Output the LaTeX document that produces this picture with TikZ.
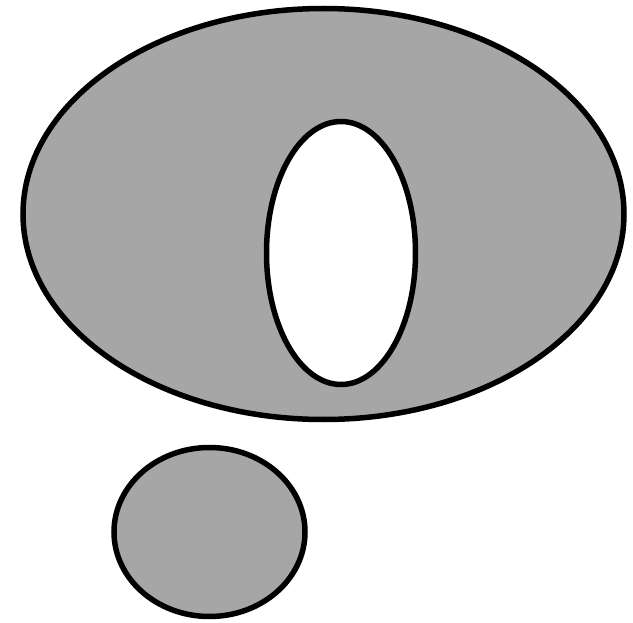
\documentclass[tikz,border=0pt]{standalone}
\begin{document}
\begin{tikzpicture}[x=1pt,y=-1pt,
  shapeline/.style={line width=5.5pt,draw=black},
  grayfill/.style={fill=gray!70}]
\useasboundingbox (0,0) rectangle (633,623);
\path[shapeline,grayfill,even odd rule] (323.5,214) ellipse [x radius=300.5, y radius=205.5]
  (341,253) ellipse [x radius=74.5, y radius=131.5];
\path[shapeline,grayfill] (209.5,532) ellipse [x radius=95.5, y radius=84.5];
\end{tikzpicture}
\end{document}
